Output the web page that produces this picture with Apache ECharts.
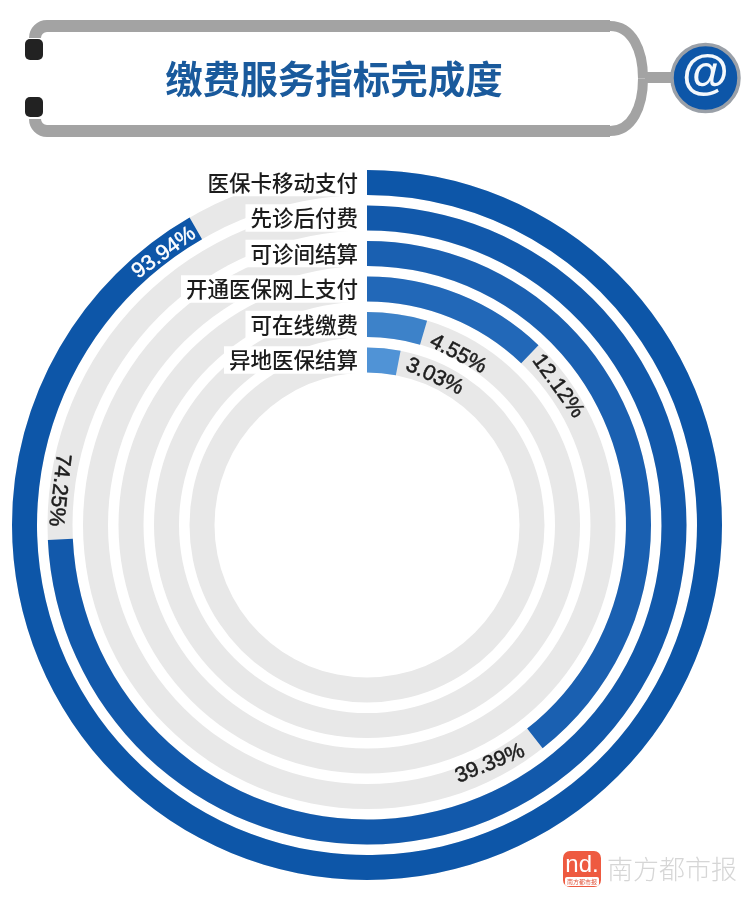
<!DOCTYPE html>
<html>
<head>
<meta charset="utf-8">
<style>
  html, body { margin: 0; padding: 0; background: #fff; }
  #main { width: 750px; height: 900px; }
</style>
<script src="https://cdn.jsdelivr.net/npm/echarts@6/dist/echarts.min.js"></script>
</head>
<body>
<div id="main"></div>
<script>
  var categories = ['医保卡移动支付', '先诊后付费', '可诊间结算', '开通医保网上支付', '可在线缴费', '异地医保结算'];
  // printed next to each ring
  var percentLabels = ['93.94%', '74.25%', '39.39%', '12.12%', '4.55%', '3.03%'];
  // how far each ring is filled in the picture (the outer one stops a bit short of its printed 93.94)
  var filled = [91.67, 74.25, 39.39, 12.12, 4.55, 3.03];

  var ringColors = ['#0d56a8', '#1259ab', '#1a60b1', '#2268b8', '#3d82c9', '#5093d6'];
  var font = '"Noto Sans CJK SC", sans-serif';
  var latin = '"Liberation Sans", Arial, sans-serif';
  var frame = '#a3a3a3';

  // where the percent text sits along its ring, and its tilt
  var labelAngle = [89.8, 76.8, 42.5, 15, 7.8, 6.9];
  var labelRotate = [36, -96, 22, -54, -28, -25];
  var labelNudge = [[0, 3], [0, 3], [1, -3], [0, 0], [0, 7], [-1, 2]];
  var labelColor = ['#fff', '#1c1c1c', '#1c1c1c', '#1c1c1c', '#1c1c1c', '#1c1c1c'];

  var myChart = echarts.init(document.getElementById('main'));

  var option = {
    backgroundColor: '#fff',
    animation: false,
    polar: {
      center: [367, 525],
      radius: [147.25, 360.25]
    },
    angleAxis: {
      type: 'value',
      min: 0,
      max: 100,
      startAngle: 90,
      clockwise: true,
      show: false
    },
    radiusAxis: {
      type: 'category',
      data: categories,
      inverse: true,
      z: 5,
      axisLine: { show: false },
      axisTick: { show: false },
      axisLabel: {
        show: true,
        interval: 0,
        margin: 0,
        color: '#1c1c1c',
        fontSize: 21.5,
        fontWeight: 500,
        fontFamily: font,
        backgroundColor: '#fff',
        padding: [3, 9, 3, 5]
      }
    },
    series: [
      {
        type: 'bar',
        coordinateSystem: 'polar',
        barWidth: 25,
        showBackground: true,
        backgroundStyle: { color: '#e8e8e8' },
        data: filled.map(function (v, i) {
          return { value: v, itemStyle: { color: ringColors[i] } };
        })
      },
      {
        type: 'scatter',
        coordinateSystem: 'polar',
        symbolSize: 1,
        itemStyle: { color: 'transparent', opacity: 1 },
        z: 6,
        data: percentLabels.map(function (t, i) {
          return {
            value: [i, labelAngle[i]],
            label: {
              show: true,
              position: 'inside',
              formatter: t,
              rotate: labelRotate[i],
              offset: labelNudge[i],
              color: labelColor[i],
              opacity: 1,
              fontSize: 21.5,
              fontFamily: latin,
              textBorderColor: labelColor[i],
              textBorderWidth: 0.5
            }
          };
        })
      }
    ],
    graphic: [
      // header frame
      { type: 'line', shape: { x1: 47, y1: 26, x2: 610, y2: 26 }, style: { stroke: frame, lineWidth: 12 } },
      { type: 'line', shape: { x1: 47, y1: 131, x2: 610, y2: 131 }, style: { stroke: frame, lineWidth: 12 } },
      { type: 'arc', shape: { cx: 47, cy: 38, r: 12, startAngle: Math.PI, endAngle: Math.PI * 1.5 }, style: { stroke: frame, fill: null, lineWidth: 12 } },
      { type: 'arc', shape: { cx: 47, cy: 119, r: 12, startAngle: Math.PI / 2, endAngle: Math.PI }, style: { stroke: frame, fill: null, lineWidth: 12 } },
      { type: 'bezierCurve', shape: { x1: 610, y1: 26, cpx1: 632, cpy1: 26, cpx2: 643, cpy2: 50, x2: 643, y2: 78.5 }, style: { stroke: frame, fill: null, lineWidth: 10 } },
      { type: 'bezierCurve', shape: { x1: 643, y1: 78.5, cpx1: 643, cpy1: 107, cpx2: 632, cpy2: 131, x2: 610, y2: 131 }, style: { stroke: frame, fill: null, lineWidth: 10 } },
      { type: 'line', shape: { x1: 645, y1: 77.5, x2: 676, y2: 77.5 }, style: { stroke: frame, lineWidth: 11 } },
      { type: 'rect', shape: { x: 25, y: 39, width: 18, height: 21, r: 5 }, style: { fill: '#222' } },
      { type: 'rect', shape: { x: 25, y: 97, width: 18, height: 20, r: 5 }, style: { fill: '#222' } },
      { type: 'circle', shape: { cx: 705.5, cy: 78, r: 33.5 }, style: { fill: '#0d56a8', stroke: '#9aa0a8', lineWidth: 3.5 } },
      { type: 'text', x: 705.5, y: 76, style: { text: '@', fill: '#f4f8fc', fontSize: 48, fontWeight: 700, fontFamily: latin, align: 'center', verticalAlign: 'middle' } },
      { type: 'text', x: 334, y: 79, style: { text: '缴费服务指标完成度', fill: '#1a5a9c', fontSize: 37.5, fontWeight: 700, fontFamily: font, align: 'center', verticalAlign: 'middle' } },
      // watermark
      { type: 'rect', shape: { x: 563, y: 851, width: 38, height: 36, r: 7 }, style: { fill: '#ee5a40' } },
      { type: 'rect', shape: { x: 565, y: 877, width: 34, height: 9, r: 2 }, style: { fill: '#fff' } },
      { type: 'text', x: 582, y: 865, style: { text: 'nd.', fill: '#fff', fontSize: 24, fontFamily: latin, align: 'center', verticalAlign: 'middle' } },
      { type: 'text', x: 582, y: 881.5, style: { text: '南方都市报', fill: '#e0553c', fontSize: 6, fontFamily: font, align: 'center', verticalAlign: 'middle' } },
      { type: 'text', x: 672, y: 869, style: { text: '南方都市报', fill: '#d6d6d6', fontSize: 26, fontWeight: 300, fontFamily: font, align: 'center', verticalAlign: 'middle' } }
    ]
  };

  myChart.setOption(option);
</script>
</body>
</html>
